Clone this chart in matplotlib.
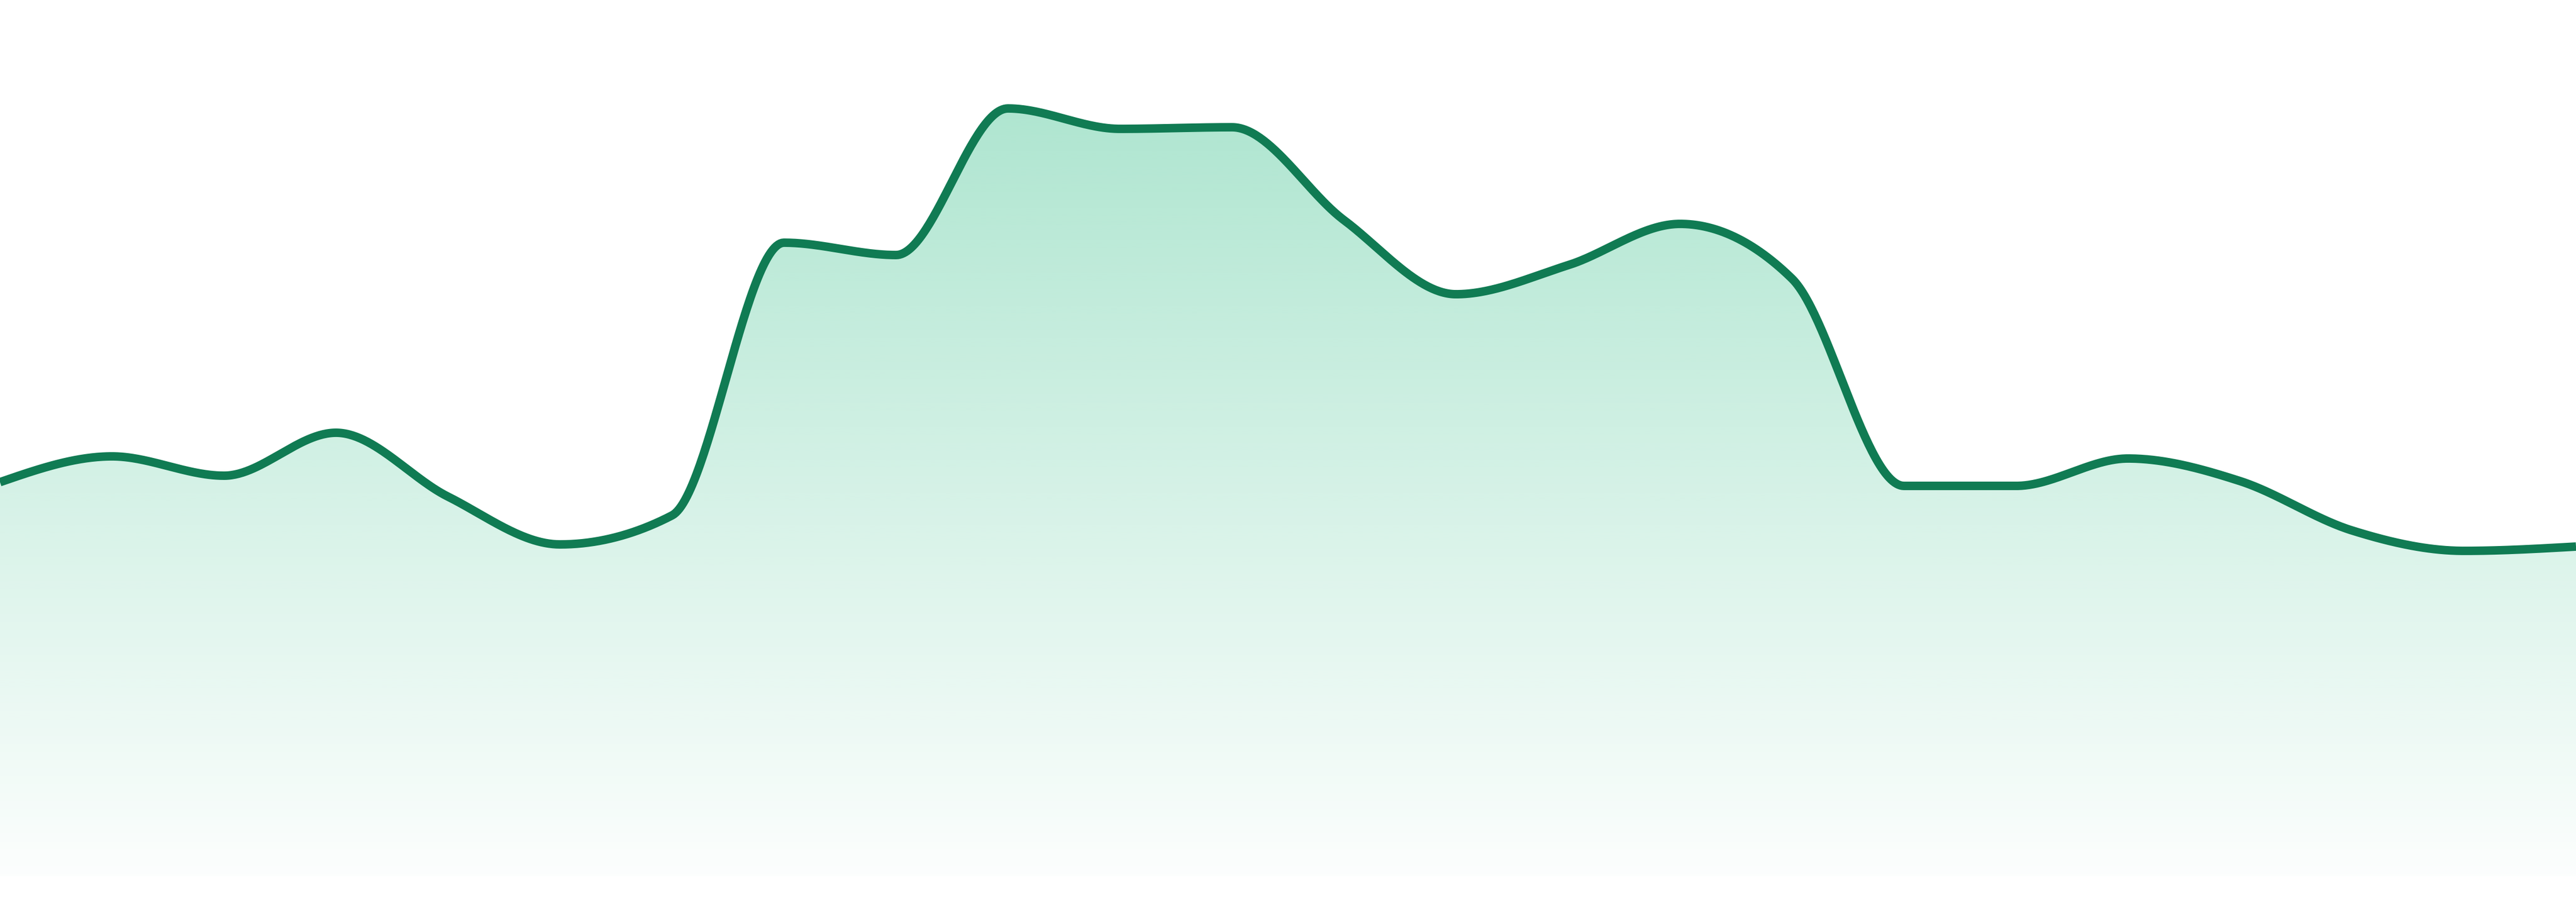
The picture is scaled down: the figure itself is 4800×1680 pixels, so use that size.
import numpy as np
import matplotlib
matplotlib.use("Agg")
import matplotlib.pyplot as plt
from matplotlib.colors import to_rgb

# ---- data ----
periods = list(range(24))
values = [73.4, 78.2, 74.6, 82.6, 70.7, 61.8, 67.2, 118.0, 115.7, 143.0, 139.2, 139.5,
          122.2, 108.4, 113.8, 121.5, 111.3, 72.7, 72.7, 77.8, 73.6, 64.4, 60.6, 61.4]

line_color = "#107b53"
fill_color = "#2ebd85"


def monotone_x(x, y, n=60):
    """Monotone cubic interpolation (same as d3.curveMonotoneX)."""
    x = np.asarray(x, float)
    y = np.asarray(y, float)
    m = len(x)
    h = np.diff(x)
    s = np.diff(y) / h
    t = np.zeros(m)
    for i in range(1, m - 1):
        h0, h1 = h[i - 1], h[i]
        s0, s1 = s[i - 1], s[i]
        p = (s0 * h1 + s1 * h0) / (h0 + h1)
        t[i] = (np.sign(s0) + np.sign(s1)) * min(abs(s0), abs(s1), 0.5 * abs(p))
    t[0] = (3 * s[0] - t[1]) / 2
    t[-1] = (3 * s[-1] - t[-2]) / 2
    xs, ys = [], []
    for i in range(m - 1):
        u = np.linspace(0, 1, n, endpoint=(i == m - 2))
        dx = h[i]
        h00 = 2 * u**3 - 3 * u**2 + 1
        h10 = u**3 - 2 * u**2 + u
        h01 = -2 * u**3 + 3 * u**2
        h11 = u**3 - u**2
        xs.append(x[i] + u * dx)
        ys.append(h00 * y[i] + h10 * dx * t[i] + h01 * y[i + 1] + h11 * dx * t[i + 1])
    return np.concatenate(xs), np.concatenate(ys)


fig = plt.figure(figsize=(48, 16.8), dpi=100)
ax = fig.add_axes([0, 0, 1, 1])
ax.set_xlim(periods[0], periods[-1])
ax.set_ylim(-4.8, 163.2)
ax.axis("off")

xs, ys = monotone_x(periods, values)

# gradient fill clipped to the area under the curve
poly = ax.fill_between(xs, ys, 0, color="none", lw=0)
rgb = np.array(to_rgb(fill_color))
nrow = 512
yy = np.linspace(0, 1, nrow)  # 0 = bottom (value 0), 1 = top
vmax = max(values)
frac = np.clip(yy * 163.2 / vmax, 0, None)
alpha = 0.015 + (0.385 - 0.015) * frac
grad = np.zeros((nrow, 2, 4))
grad[..., :3] = rgb
grad[..., 3] = alpha[:, None]
im = ax.imshow(grad, extent=[periods[0], periods[-1], 0, 163.2], origin="lower",
               aspect="auto", interpolation="bilinear", zorder=1)
path = poly.get_paths()[0]
im.set_clip_path(path, transform=ax.transData)

ax.plot(xs, ys, color=line_color, lw=11.4, solid_capstyle="butt", zorder=3)

fig.savefig("out.png", dpi=100, facecolor="white")
